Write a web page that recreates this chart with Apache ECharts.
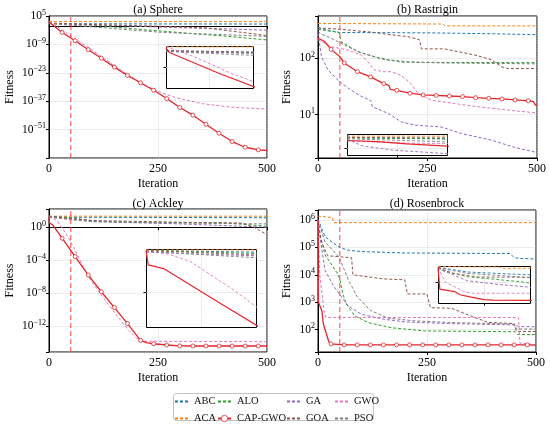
<!DOCTYPE html>
<html lang="en">
<head>
<meta charset="UTF-8">
<title>Convergence curves</title>
<style>
    html, body { margin: 0; padding: 0; background: #fff; }
    #main { width: 550px; height: 427px; }
</style>
<script src="https://cdn.jsdelivr.net/npm/echarts@6/dist/echarts.min.js"></script>
</head>
<body>
<div id="main"></div>
<script type="text/javascript">
    // ---- axis ticks (y ticks are powers of ten: the exponent is stored) ----
    var iterTicks = [0, 250, 500];
    var zoomEnd = 50; // dashed marker and inset range end
    var sphereTicks = [5, -9, -23, -37, -51];
    var rastriginTicks = [1, 2];
    var ackleyTicks = [0, -4, -8, -12];
    var rosenTicks = [2, 3, 4, 5, 6];
    var seriesNames = ['ABC', 'ACA', 'ALO', 'CAP-GWO', 'GA', 'GOA', 'GWO', 'PSO'];

    // ---- (a) Sphere : [iteration, fitness] ----
    var sphereABC = [[0, 32], [20, 16], [200, 13], [500, 11]];
    var sphereACA = [[0, 180], [500, 170]];
    var sphereALO = [[0, 25], [50, 10], [105, 2.5], [160, 0.25], [220, 0.016], [280, 1.6e-3], [335, 1.6e-4], [411, 1e-5], [460, 1e-6], [500, 1.6e-7]];
    var sphereCAP = [[0, 100], [2, 12.6], [30, 7.9e-4], [60, 6.3e-8], [90, 2.5e-12], [120, 1.6e-16], [150, 6.3e-21], [180, 5e-25], [210, 1.3e-28], [240, 2.5e-32], [270, 2e-36], [300, 7.9e-41], [330, 1.3e-44], [360, 4e-49], [390, 1.6e-53], [420, 1.3e-57], [450, 2e-60], [480, 1e-61], [500, 5e-62]];
    var sphereGA = [[0, 25], [50, 8], [150, 2], [300, 0.16], [400, 0.05], [500, 0.01]];
    var sphereGOA = [[0, 32], [100, 6.3], [250, 1], [330, 0.25], [365, 0.1], [420, 3.2e-3], [470, 1.6e-4], [500, 1.6e-5]];
    var sphereGWO = [[0, 200], [16, 1.8], [35, 1.6e-3], [50, 1.6e-5], [60, 6.3e-7], [90, 3.2e-11], [120, 1e-15], [150, 3.2e-20], [180, 1e-24], [210, 1.3e-28], [240, 6.3e-32], [260, 1e-33], [290, 6.3e-36], [350, 6.3e-39], [420, 1e-40], [500, 1.3e-41]];
    var spherePSO = [[0, 20], [50, 3.2], [100, 0.5], [150, 0.063], [200, 7.9e-3], [255, 1e-3], [320, 2.5e-4], [400, 6.3e-5], [500, 1e-5]];

    // ---- (b) Rastrigin ----
    var rastABC = [[0, 360], [20, 320], [49, 290], [260, 285], [400, 275], [500, 265]];
    var rastACA = [[0, 420], [285, 410], [290, 380], [500, 380]];
    var rastALO = [[0, 330], [48, 290], [53, 195], [60, 185], [91, 132], [129, 107], [167, 93], [205, 87], [243, 85], [500, 84]];
    var rastCAP = [[0, 230], [15, 200], [30, 145], [50, 107], [60, 83], [90, 58], [120, 47], [150, 35.5], [162, 33], [165, 28], [180, 27], [210, 24], [240, 22.4], [270, 21.9], [300, 21.4], [330, 20.9], [360, 20], [390, 19.5], [420, 19], [450, 18.2], [480, 17.6], [492, 17], [496, 14.8], [500, 14.8]];
    var rastGA = [[0, 280], [8, 107], [23, 62], [50, 38], [76, 27], [99, 21], [120, 18], [124, 13.8], [160, 10.5], [190, 7.4], [221, 6.5], [282, 6], [327, 4.6], [396, 3.5], [449, 2.6], [500, 2.1]];
    var rastGOA = [[0, 350], [53, 330], [129, 290], [167, 263], [205, 245], [232, 214], [236, 148], [289, 148], [358, 115], [396, 95], [419, 71], [434, 66], [500, 66]];
    var rastGWO = [[0, 215], [30, 162], [68, 141], [99, 115], [114, 87], [129, 62], [152, 58], [167, 58], [190, 50], [213, 35], [228, 24], [259, 18], [304, 16], [358, 14], [434, 12], [500, 10.7]];
    var rastPSO = [[0, 300], [8, 270], [30, 230], [69, 160], [100, 125], [145, 98], [190, 86], [300, 83], [500, 80]];

    // ---- (c) Ackley ----
    var ackABC = [[0, 20], [50, 16], [500, 14]];
    var ackACA = [[0, 21.5], [500, 21.5]];
    var ackALO = [[0, 20], [60, 12.6], [100, 5], [200, 4], [400, 3.2], [450, 2.2], [500, 1.26]];
    var ackCAP = [[0, 20], [1, 3.2], [8, 2], [30, 0.046], [60, 2.8e-4], [90, 1.6e-6], [120, 1.55e-8], [150, 1.9e-10], [180, 2.2e-12], [210, 2e-14], [225, 1e-14], [240, 7.9e-15], [270, 5.6e-15], [300, 4.3e-15], [330, 4.2e-15], [360, 4.2e-15], [390, 4.2e-15], [420, 4.2e-15], [450, 4.2e-15], [480, 4.2e-15], [500, 4.2e-15]];
    var ackGA = [[0, 16], [50, 10], [150, 4], [300, 2.5], [450, 1.26], [500, 1.0]];
    var ackGOA = [[0, 20], [100, 6.3], [300, 4], [440, 3.2], [470, 1], [500, 0.12]];
    var ackGWO = [[0, 20], [10, 12.6], [20, 5], [30, 0.8], [40, 0.13], [50, 0.016], [60, 1.6e-3], [90, 1e-6], [120, 6.3e-9], [150, 5e-11], [180, 5e-13], [200, 4e-14], [215, 1.6e-14], [500, 1.4e-14]];
    var ackPSO = [[0, 17.8], [50, 7.9], [100, 4.5], [250, 3.5], [400, 2.8], [500, 2.5]];

    // ---- (d) Rosenbrock ----
    var rosenABC = [[0, 1.1e6], [16, 2.5e5], [34, 1.5e5], [50, 1e5], [70, 7.9e4], [100, 7.1e4], [200, 6.3e4], [440, 6e4], [450, 4.3e4], [460, 4e4], [500, 3.8e4]];
    var rosenACA = [[0, 1.4e6], [33, 1.25e6], [36, 8.1e5], [500, 8.1e5]];
    var rosenALO = [[0, 1e6], [2, 4.5e5], [16, 5.4e4], [34, 2e4], [45, 1.1e4], [50, 7e3], [57, 2e3], [65, 850], [84, 320], [115, 180], [168, 117], [245, 89], [452, 83], [458, 66], [500, 66]];
    var rosenCAP = [[0, 1e6], [1, 1000], [5, 700], [9, 470], [12, 170], [18, 80], [25, 35], [30, 30], [60, 27.5], [90, 27.5], [120, 27.5], [150, 27.5], [180, 27.5], [210, 27.5], [240, 27.5], [270, 27.5], [300, 27.5], [330, 27.5], [360, 27.5], [390, 27.5], [420, 27.5], [450, 27.5], [480, 27.5], [500, 27]];
    var rosenGA = [[0, 1e6], [2, 4.5e5], [16, 1.5e4], [34, 4.3e3], [50, 1.9e3], [70, 710], [100, 360], [150, 240], [200, 190], [300, 166], [450, 148], [460, 130], [500, 126]];
    var rosenGOA = [[0, 1e6], [8, 1.6e5], [15, 8.9e4], [22, 5e4], [77, 4.2e4], [80, 1e4], [150, 7.1e3], [199, 6.6e3], [205, 2e3], [250, 2e3], [258, 630], [306, 600], [360, 275], [390, 182], [450, 166], [455, 85], [500, 85]];
    var rosenGWO = [[0, 1e6], [4, 1e4], [9, 2.2e3], [14, 470], [18, 275], [460, 275], [463, 32], [500, 28]];
    var rosenPSO = [[0, 1e6], [16, 1.6e5], [34, 7.9e4], [50, 4e4], [70, 6.3e3], [90, 1.6e3], [120, 500], [160, 263], [220, 209], [300, 182], [450, 158], [455, 105], [500, 105]];

    var colors = ['#1f77b4', '#ff7f0e', '#2ca02c', '#e3262b', '#9467bd', '#8c564b', '#e377c2', '#7f7f7f'];
    var font = 'Liberation Serif';

    // layout of the four panels and their zoomed insets (y limits are log10)
    var panels = [
        {title: '(a) Sphere', curves: [sphereABC, sphereACA, sphereALO, sphereCAP, sphereGA, sphereGOA, sphereGWO, spherePSO],
            ticks: sphereTicks, box: {left: 49, top: 16, width: 218, height: 142}, yMin: -65, yMax: 5, step: 14, fromMin: true,
            titleTop: 4, nameGap: 33,
            inset: {left: 166, top: 46, width: 87, height: 42, yMin: -6.15, yMax: 2.42, mark: -2}},
        {title: '(b) Rastrigin', curves: [rastABC, rastACA, rastALO, rastCAP, rastGA, rastGOA, rastGWO, rastPSO],
            ticks: rastriginTicks, box: {left: 318, top: 16, width: 219, height: 142}, yMin: 0.226, yMax: 2.756, step: 1,
            titleTop: 4, nameGap: 25,
            inset: {left: 347, top: 134, width: 100, height: 21, yMin: 1.5, yMax: 2.75, mark: 1.9}},
        {title: '(c) Ackley', curves: [ackABC, ackACA, ackALO, ackCAP, ackGA, ackGOA, ackGWO, ackPSO],
            ticks: ackleyTicks, box: {left: 49, top: 209, width: 218, height: 143}, yMin: -15.1, yMax: 2.2, step: 4,
            titleTop: 198, nameGap: 33,
            inset: {left: 146, top: 249, width: 110, height: 78, yMin: -2.92, yMax: 1.38, mark: -1}},
        {title: '(d) Rosenbrock', curves: [rosenABC, rosenACA, rosenALO, rosenCAP, rosenGA, rosenGOA, rosenGWO, rosenPSO],
            ticks: rosenTicks, box: {left: 318, top: 210, width: 218, height: 142}, yMin: 1.18, yMax: 6.37, step: 1,
            titleTop: 198, nameGap: 25,
            inset: {left: 438, top: 266, width: 92, height: 37, yMin: 1.08, yMax: 6.23, mark: 4}}
    ];

    function powLabel(ticks) {
        return function (v) {
            var e = Math.round(v * 1000) / 1000;
            for (var i = 0; i < ticks.length; i++) {
                if (Math.abs(ticks[i] - e) < 1e-6) {
                    return '{b|10}{s|' + String(ticks[i]).replace('-', '\u2212') + '}';
                }
            }
            return '';
        };
    }

    var red = '#e3262b';
    var grids = [], xAxes = [], yAxes = [], series = [], titles = [], graphics = [];
    var labelRich = {
        b: {fontFamily: font, fontSize: 11.5, color: '#000', lineHeight: 15},
        s: {fontFamily: font, fontSize: 8, color: '#000', lineHeight: 9, verticalAlign: 'top'}
    };

    panels.forEach(function (p, i) {
        grids.push({left: p.box.left, top: p.box.top, width: p.box.width, height: p.box.height,
            show: true, borderColor: '#000', borderWidth: 1, backgroundColor: 'transparent', outerBoundsMode: 'none'});
        titles.push({text: p.title, left: p.box.left + p.box.width / 2, top: p.titleTop, textAlign: 'center', padding: 0,
            textStyle: {fontFamily: font, fontSize: 12, fontWeight: 'normal', color: '#000'}});
        xAxes.push({
            type: 'value', gridIndex: i, min: iterTicks[0], max: iterTicks[iterTicks.length - 1], interval: iterTicks[1] - iterTicks[0],
            name: 'Iteration', nameLocation: 'middle', nameGap: 20,
            nameTextStyle: {fontFamily: font, fontSize: 12, color: '#000'},
            axisLine: {show: true, lineStyle: {color: '#000', width: 1}},
            axisTick: {show: true, length: 3, lineStyle: {color: '#000'}},
            axisLabel: {fontFamily: font, fontSize: 12, color: '#000', margin: 5},
            splitLine: {show: true, lineStyle: {color: '#cfcfcf', type: 'dotted', width: 0.8}}
        });
        var y = {
            type: 'value', gridIndex: i, min: p.yMin, max: p.yMax,
            name: 'Fitness', nameLocation: 'middle', nameGap: p.nameGap,
            nameTextStyle: {fontFamily: font, fontSize: 12, color: '#000'},
            axisLine: {show: true, lineStyle: {color: '#000', width: 1}},
            axisTick: {show: true, length: 3, lineStyle: {color: '#000'}},
            axisLabel: {formatter: powLabel(p.ticks), rich: labelRich, margin: 3, showMinLabel: true, showMaxLabel: true},
            splitLine: {show: true, lineStyle: {color: '#cfcfcf', type: 'dotted', width: 0.8}}
        };
        if (p.fromMin) { y.interval = p.step; } else { y.minInterval = p.step; y.maxInterval = p.step; }
        yAxes.push(y);

        // vertical dashed marker at the end of the zoomed range, spanning the whole y range
        series.push({
            name: 'marker-' + i, type: 'line', xAxisIndex: i, yAxisIndex: i,
            data: [[zoomEnd, p.yMin], [zoomEnd, p.yMax]],
            symbol: 'none', showSymbol: false, silent: true, animation: false, z: 5,
            lineStyle: {color: '#ff4545', type: [5, 3], width: 1},
            itemStyle: {color: '#ff4545'}
        });

        p.curves.forEach(function (c, k) {
            var isRed = seriesNames[k] === 'CAP-GWO';
            series.push({
                name: seriesNames[k], type: 'line', xAxisIndex: i, yAxisIndex: i,
                data: c.map(function (d) {
                    return {value: [d[0], Math.log10(d[1])],
                        symbol: (isRed && d[0] > 0 && d[0] % 30 === 0) ? 'circle' : 'none'};
                }),
                symbol: isRed ? 'circle' : 'none', symbolSize: 4, showSymbol: isRed,
                lineStyle: {color: colors[k], width: isRed ? 1.3 : 1, type: isRed ? 'solid' : [3, 2]},
                itemStyle: isRed ? {color: '#fff', borderColor: red, borderWidth: 0.8} : {color: colors[k]},
                z: isRed ? 4 : 2, silent: true, animation: false
            });
        });
    });

    // zoomed insets over the first iterations
    panels.forEach(function (p, i) {
        var q = p.inset, gi = panels.length + i;
        grids.push({left: q.left, top: q.top, width: q.width, height: q.height, show: false, outerBoundsMode: 'none'});
        graphics.push({type: 'rect', z: 1, silent: true,
            shape: {x: q.left + 0.5, y: q.top + 0.5, width: q.width, height: q.height},
            style: {fill: '#fff', stroke: '#000', lineWidth: 1}});
        xAxes.push({type: 'value', gridIndex: gi, min: 0, max: zoomEnd,
            axisLine: {show: false}, axisLabel: {show: false}, splitLine: {show: false},
            axisTick: {show: true, customValues: [zoomEnd / 2], length: 2.5, lineStyle: {color: '#000'}}});
        yAxes.push({type: 'value', gridIndex: gi, min: q.yMin, max: q.yMax,
            axisLine: {show: false}, axisLabel: {show: false}, splitLine: {show: false},
            axisTick: {show: true, customValues: [q.mark], length: 2.5, lineStyle: {color: '#000'}}});
        p.curves.forEach(function (c, k) {
            var isRed = seriesNames[k] === 'CAP-GWO';
            var s = {
                name: seriesNames[k], type: 'line', xAxisIndex: gi, yAxisIndex: gi,
                data: c.map(function (d) { return [d[0], Math.log10(d[1])]; }),
                symbol: 'none', showSymbol: false, clip: true,
                lineStyle: {color: colors[k], width: isRed ? 1.2 : 0.9, type: isRed ? 'solid' : [3, 2]},
                itemStyle: isRed ? {color: '#fff', borderColor: red, borderWidth: 0.8} : {color: colors[k]},
                z: isRed ? 4 : 2, silent: true, animation: false
            };
            if (k === 0) {
                s.markLine = {silent: true, z: 1.5, symbol: ['none', 'none'], label: {show: false},
                    lineStyle: {color: '#cfcfcf', type: 'dotted', width: 0.8}, animation: false,
                    data: [{xAxis: zoomEnd / 2}, {yAxis: q.mark}]};
            }
            series.push(s);
        });
    });

    // legend: four columns of two entries inside one frame; only CAP-GWO shows its marker
    var legendCols = [[174, ['ABC', 'ACA']], [217, ['ALO', 'CAP-GWO']], [286, ['GA', 'GOA']], [334, ['GWO', 'PSO']]];
    var legends = legendCols.map(function (col) {
        return {left: col[0], top: 396, orient: 'vertical', padding: 0, itemGap: 6, itemWidth: 13, itemHeight: 8,
            selectedMode: false, itemStyle: {opacity: 0},
            data: col[1].map(function (n) {
                return n === 'CAP-GWO' ? {name: n, itemStyle: {opacity: 1, color: '#fff', borderColor: red, borderWidth: 0.8}} : {name: n};
            }),
            textStyle: {fontFamily: font, fontSize: 10.5, color: '#111', padding: [0, 0, 0, 1]}};
    });
    graphics.push({type: 'rect', z: 0, silent: true,
        shape: {x: 173.5, y: 393.5, width: 200, height: 27, r: 3},
        style: {fill: 'none', stroke: '#c4c4c4', lineWidth: 1}});

    var myChart = echarts.init(document.getElementById('main'), null, {renderer: 'canvas'});
    myChart.setOption({
        animation: false,
        backgroundColor: '#fff',
        textStyle: {fontFamily: font},
        title: titles,
        legend: legends,
        grid: grids,
        xAxis: xAxes,
        yAxis: yAxes,
        graphic: graphics,
        series: series
    });
</script>
</body>
</html>
